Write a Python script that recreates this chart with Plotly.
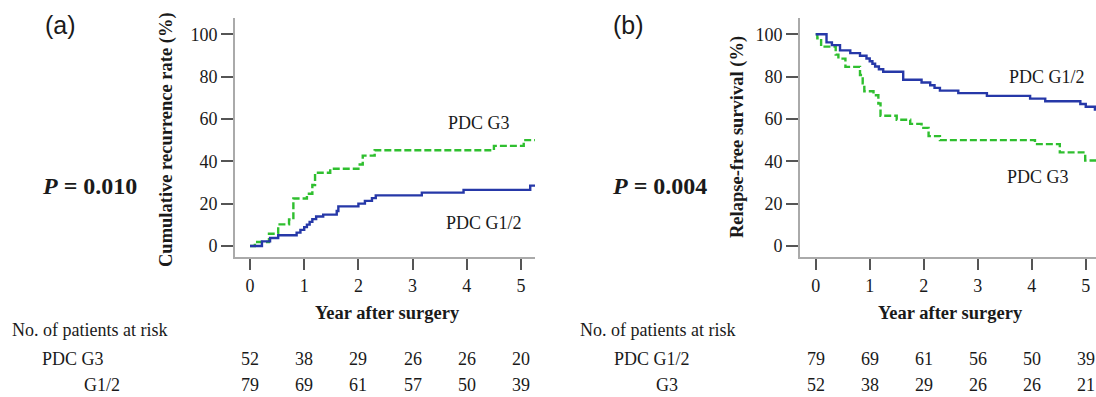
import plotly.graph_objects as go

W, H = 1096, 397

# ---------------- data ----------------
years_ticks = [0, 1, 2, 3, 4, 5]
y_ticks = [0, 20, 40, 60, 80, 100]

# Panel (a): cumulative recurrence rate (%)
a_g3_x = [0, 0.09, 0.35, 0.52, 0.72, 0.8, 1.05, 1.15, 1.2, 1.48, 2.0, 2.08, 2.3, 4.5, 5.05, 5.26]
a_g3_y = [0, 1.9, 5.8, 10.2, 12.5, 22.4, 24.7, 28.8, 34.6, 36.5, 38.5, 42.7, 45.2, 47.3, 50.0, 50.0]
a_g12_x = [0, 0.22, 0.37, 0.52, 0.86, 0.93, 1.0, 1.05, 1.1, 1.15, 1.22, 1.35, 1.6, 1.63, 2.0,
           2.12, 2.25, 2.32, 3.17, 3.94, 5.17, 5.26]
a_g12_y = [0, 2.2, 3.8, 5.1, 6.3, 7.6, 8.9, 10.1, 11.4, 12.7, 13.9, 14.8, 16.5, 18.7, 20.0,
           21.3, 22.6, 23.9, 25.2, 26.5, 28.5, 28.5]

# Panel (b): relapse-free survival (%)
b_g12_x = [0, 0.2, 0.3, 0.45, 0.64, 0.82, 0.94, 1.0, 1.05, 1.1, 1.17, 1.25, 1.62, 1.96, 2.12,
           2.2, 2.3, 2.64, 3.17, 3.97, 4.25, 4.9, 5.0, 5.17, 5.19]
b_g12_y = [100, 96.2, 94.9, 92.4, 91.1, 89.9, 88.6, 87.3, 86.1, 84.8, 83.5, 82.3, 78.5, 77.2, 75.9,
           74.7, 73.4, 72.2, 70.9, 69.6, 68.4, 67.1, 65.8, 64.5, 64.5]
b_g3_x = [0, 0.03, 0.1, 0.37, 0.42, 0.55, 0.82, 0.87, 0.9, 1.07, 1.16, 1.2, 1.5, 1.75, 1.96,
          2.09, 2.3, 4.06, 4.52, 4.99, 5.19]
b_g3_y = [100, 98.1, 94.2, 90.4, 88.5, 84.6, 80.8, 76.9, 73.1, 71.2, 67.3, 61.5, 59.6, 57.7, 55.8,
          51.9, 50.0, 48.1, 44.2, 40.4, 40.4]

# Numbers at risk
a_risk_g3 = [52, 38, 29, 26, 26, 20]
a_risk_g12 = [79, 69, 61, 57, 50, 39]
b_risk_g12 = [79, 69, 61, 56, 50, 39]
b_risk_g3 = [52, 38, 29, 26, 26, 21]

# ---------------- style ----------------
GREEN = "#2fbf2f"
BLUE = "#2638a8"
SERIF = "Liberation Serif"
SANS = "Liberation Sans"
TXT = "#1a1a1a"

def py(px):
    return (H - px) / H

def px_x(px):
    return px / W

fig = go.Figure()

fig.add_trace(go.Scatter(x=a_g3_x, y=a_g3_y, mode="lines", line=dict(color=GREEN, width=2.4, dash="7px,3px", shape="hv"),
                         xaxis="x", yaxis="y", showlegend=False))
fig.add_trace(go.Scatter(x=a_g12_x, y=a_g12_y, mode="lines", line=dict(color=BLUE, width=2.4, shape="hv"),
                         xaxis="x", yaxis="y", showlegend=False))
fig.add_trace(go.Scatter(x=b_g3_x, y=b_g3_y, mode="lines", line=dict(color=GREEN, width=2.4, dash="7px,3px", shape="hv"),
                         xaxis="x2", yaxis="y2", showlegend=False))
fig.add_trace(go.Scatter(x=b_g12_x, y=b_g12_y, mode="lines", line=dict(color=BLUE, width=2.4, shape="hv"),
                         xaxis="x2", yaxis="y2", showlegend=False))

tickfont = dict(family=SERIF, size=18, color=TXT)
common_x = dict(tickvals=years_ticks, ticks="outside", ticklen=11, tickwidth=2, tickcolor="#555555",
                showline=True, linecolor="#aaaaaa", linewidth=2, showgrid=False, zeroline=False,
                tickfont=tickfont, fixedrange=True)
common_y = dict(tickvals=y_ticks, ticks="outside", ticklen=12, tickwidth=2, tickcolor="#555555",
                showline=True, linecolor="#aaaaaa", linewidth=2, showgrid=False, zeroline=False,
                tickfont=tickfont, fixedrange=True)

ydom = [py(257), py(18)]
fig.update_layout(
    width=W, height=H,
    margin=dict(l=0, r=0, t=0, b=0),
    paper_bgcolor="white", plot_bgcolor="white",
    xaxis=dict(domain=[px_x(235), px_x(535)], range=[-0.277, 5.258], anchor="y", **common_x),
    yaxis=dict(domain=ydom, range=[-5.2, 107.7], anchor="x", **common_y),
    xaxis2=dict(domain=[px_x(800), 1.0], range=[-0.291, 5.19], anchor="y2", **common_x),
    yaxis2=dict(domain=ydom, range=[-5.2, 107.7], anchor="x2", **common_y),
)

ann = []
def txt(x, y, text, size=18, bold=False, family=SERIF, xanchor="center", xref="paper", yref="paper", angle=0):
    t = f"<b>{text}</b>" if bold else text
    ann.append(dict(x=x, y=y, xref=xref, yref=yref, text=t, showarrow=False, xanchor=xanchor,
                    yanchor="middle", textangle=angle, font=dict(family=family, size=size, color=TXT)))

# panel letters
txt(px_x(60), py(25), "(a)", size=25, family=SANS)
txt(px_x(628), py(25), "(b)", size=25, family=SANS)
# P values
txt(px_x(40), py(186), "<i>P</i> = 0.010", size=24, bold=True, xanchor="left")
txt(px_x(610), py(186), "<i>P</i> = 0.004", size=24, bold=True, xanchor="left")
# y axis titles
txt(px_x(166), py(140), "Cumulative recurrence rate (%)", size=18.5, bold=True, angle=-90)
txt(px_x(737), py(137), "Relapse-free survival (%)", size=18.5, bold=True, angle=-90)
# x axis titles
txt(px_x(387), py(313), "Year after surgery", size=18.5, bold=True)
txt(px_x(950), py(313), "Year after surgery", size=18.5, bold=True)
# curve labels
txt(4.22, 58, "PDC G3", xref="x", yref="y")
txt(4.32, 10.9, "PDC G1/2", xref="x", yref="y")
txt(4.28, 79.8, "PDC G1/2", xref="x2", yref="y2")
txt(4.12, 32.6, "PDC G3", xref="x2", yref="y2")
# risk tables
txt(px_x(10), py(330), "No. of patients at risk", xanchor="left")
txt(px_x(40), py(359), "PDC G3", xanchor="left")
txt(px_x(82), py(385), "G1/2", xanchor="left")
txt(px_x(578), py(330), "No. of patients at risk", xanchor="left")
txt(px_x(612), py(359), "PDC G1/2", xanchor="left")
txt(px_x(654), py(385), "G3", xanchor="left")
for xv, n in zip(years_ticks, a_risk_g3):
    txt(xv, py(359), str(n), xref="x")
for xv, n in zip(years_ticks, a_risk_g12):
    txt(xv, py(385), str(n), xref="x")
for xv, n in zip(years_ticks, b_risk_g12):
    txt(xv, py(359), str(n), xref="x2")
for xv, n in zip(years_ticks, b_risk_g3):
    txt(xv, py(385), str(n), xref="x2")

fig.update_layout(annotations=ann)
fig.write_html("out.html", config={"displayModeBar": False},
               post_script="document.body.style.margin='0';document.body.style.overflow='hidden';")
